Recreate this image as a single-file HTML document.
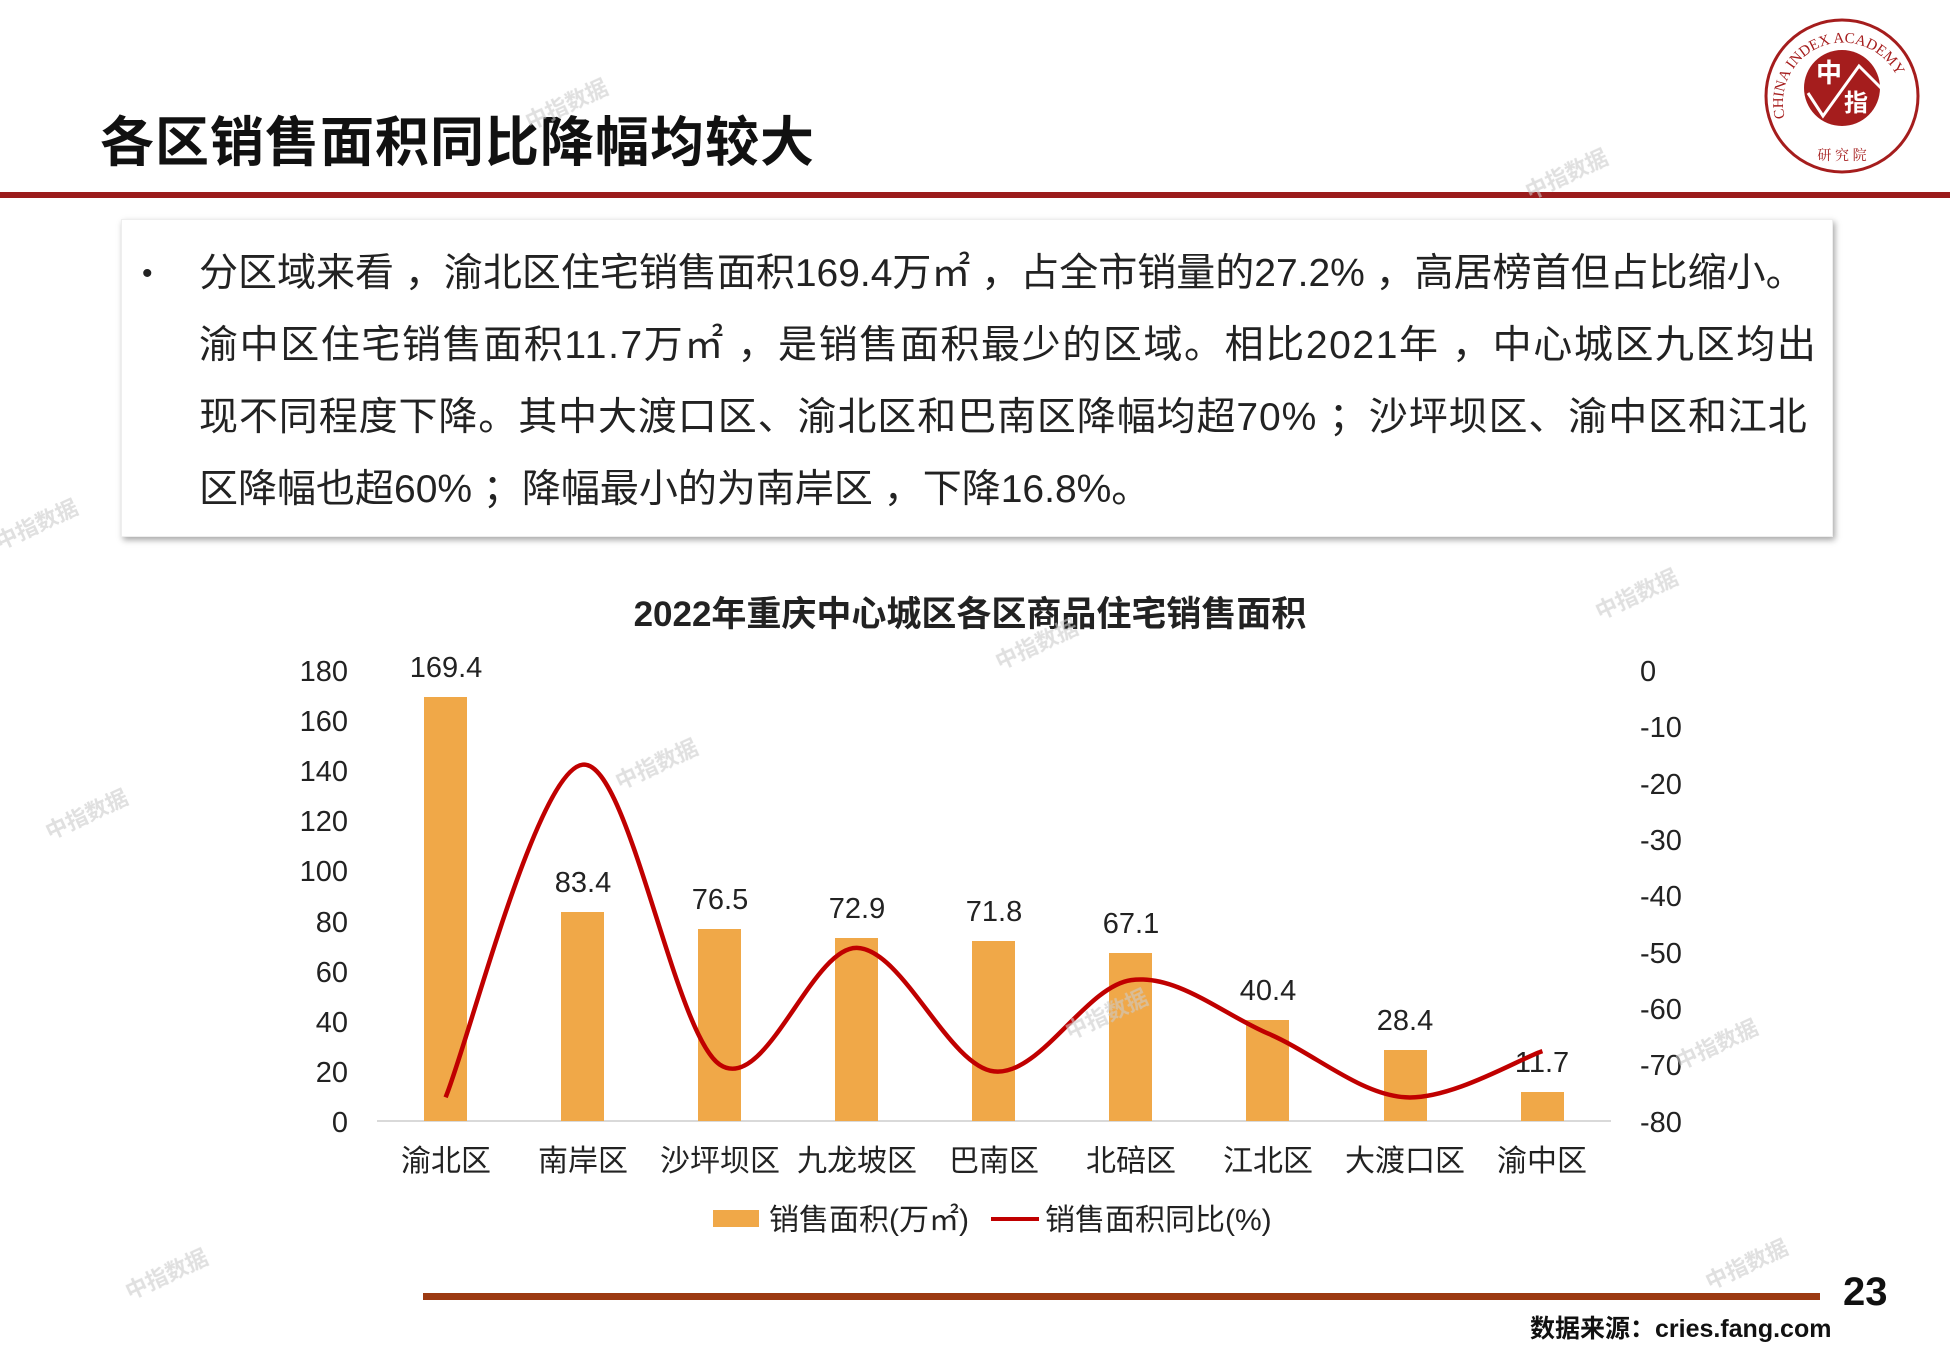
<!DOCTYPE html>
<html><head><meta charset="utf-8"><style>
body{margin:0;width:1950px;height:1350px;background:#fff;position:relative;overflow:hidden;font-family:"Liberation Sans","Noto Sans CJK SC",sans-serif;}
.title{position:absolute;left:100px;top:98px;font-size:54px;font-weight:bold;color:#111;letter-spacing:1px;}
.box{position:absolute;left:121px;top:219px;width:1710px;height:316px;background:#fff;box-shadow:2px 3px 6px rgba(0,0,0,0.35);border:1px solid #eee;}
.txt{position:absolute;left:199px;top:238px;width:1700px;font-size:39px;line-height:72px;color:#222;white-space:nowrap;}
.bullet{position:absolute;left:142px;top:238px;font-size:30px;line-height:72px;color:#222;}
</style></head><body>
<div class="title">各区销售面积同比降幅均较大</div>
<div style="position:absolute;left:0;top:192px;width:1950px;height:6px;background:#9b1c1c"></div>
<svg style="position:absolute;left:1763px;top:18px" width="160" height="158" viewBox="0 0 160 158">
<circle cx="79" cy="78" r="76" fill="#fff" stroke="#a51d1d" stroke-width="3"/>
<circle cx="79" cy="70" r="38" fill="#a51d1d"/>
<text x="66" y="64" font-size="26" fill="#fff" font-family="Noto Sans CJK SC" text-anchor="middle" font-weight="bold">中</text>
<text x="93" y="93" font-size="24" fill="#fff" font-family="Noto Sans CJK SC" text-anchor="middle" font-weight="bold">指</text>
<polyline points="45,75 60,98 96,48 118,70" fill="none" stroke="#fff" stroke-width="3"/>
<path id="arc" d="M22,100 A60,60 0 1 1 138,100" fill="none"/>
<text font-size="15" fill="#a51d1d" font-family="Liberation Serif"><textPath href="#arc">CHINA INDEX ACADEMY</textPath></text>
<text x="79" y="142" font-size="14" fill="#a51d1d" text-anchor="middle" font-family="Noto Serif CJK SC">研 究 院</text>
</svg>
<div class="box"></div>
<div class="bullet">•</div>
<div class="txt"><div>分区域来看 ，渝北区住宅销售面积169.4万㎡ ，占全市销量的27.2% ，高居榜首但占比缩小。</div><div style="letter-spacing:1.6px">渝中区住宅销售面积11.7万㎡ ，是销售面积最少的区域。相比2021年 ，中心城区九区均出</div><div style="letter-spacing:0.9px">现不同程度下降。其中大渡口区、渝北区和巴南区降幅均超70% ；沙坪坝区、渝中区和江北</div><div>区降幅也超60% ；降幅最小的为南岸区 ，下降16.8%。</div></div>
<svg style="position:absolute;left:0;top:0" width="1950" height="1350" font-family="Liberation Sans, Noto Sans CJK SC, sans-serif">
<text x="970" y="626" font-size="35" font-weight="bold" text-anchor="middle" fill="#222">2022年重庆中心城区各区商品住宅销售面积</text>
<g font-size="29" fill="#222" text-anchor="end">
<text x="348" y="681">180</text><text x="348" y="731">160</text><text x="348" y="781">140</text><text x="348" y="831">120</text><text x="348" y="881">100</text><text x="348" y="932">80</text><text x="348" y="982">60</text><text x="348" y="1032">40</text><text x="348" y="1082">20</text><text x="348" y="1132">0</text>
</g>
<g font-size="29" fill="#222" text-anchor="start">
<text x="1640" y="681">0</text><text x="1640" y="737">-10</text><text x="1640" y="794">-20</text><text x="1640" y="850">-30</text><text x="1640" y="906">-40</text><text x="1640" y="963">-50</text><text x="1640" y="1019">-60</text><text x="1640" y="1075">-70</text><text x="1640" y="1132">-80</text>
</g>
<line x1="377" y1="1121" x2="1611" y2="1121" stroke="#d9d9d9" stroke-width="2"/>
<g fill="#f0a848">
<rect x="424" y="697" width="43" height="424"/>
<rect x="561" y="912" width="43" height="209"/>
<rect x="698" y="929" width="43" height="192"/>
<rect x="835" y="938" width="43" height="183"/>
<rect x="972" y="941" width="43" height="180"/>
<rect x="1109" y="953" width="43" height="168"/>
<rect x="1246" y="1020" width="43" height="101"/>
<rect x="1384" y="1050" width="43" height="71"/>
<rect x="1521" y="1092" width="43" height="29"/>
</g>
<g font-size="29" fill="#222" text-anchor="middle">
<text x="446" y="677">169.4</text><text x="583" y="892">83.4</text><text x="720" y="909">76.5</text><text x="857" y="918">72.9</text><text x="994" y="921">71.8</text><text x="1131" y="933">67.1</text><text x="1268" y="1000">40.4</text><text x="1405" y="1030">28.4</text><text x="1542" y="1072">11.7</text>
</g>
<path d="M445.6,1097.3 C468.5,1041.9 537,770.2 582.7,764.7 C628.4,759.3 674.1,1034.1 719.8,1064.6 C765.5,1095.1 811.2,946.8 856.9,947.9 C902.6,949 948.3,1066 994,1071.4 C1039.7,1076.8 1085.4,986.4 1131.1,980.1 C1176.8,973.8 1222.5,1014.1 1268.2,1033.6 C1313.9,1053.1 1359.6,1094.4 1405.3,1097.3 C1451,1100.2 1519.5,1058.8 1542.4,1051.1" fill="none" stroke="#c00000" stroke-width="4.5"/>
<g font-size="30" fill="#222" text-anchor="middle">
<text x="446" y="1171">渝北区</text><text x="583" y="1171">南岸区</text><text x="720" y="1171">沙坪坝区</text><text x="857" y="1171">九龙坡区</text><text x="994" y="1171">巴南区</text><text x="1131" y="1171">北碚区</text><text x="1268" y="1171">江北区</text><text x="1405" y="1171">大渡口区</text><text x="1542" y="1171">渝中区</text>
</g>
<rect x="713" y="1210" width="46" height="17" fill="#f0a848"/>
<text x="769" y="1230" font-size="30" fill="#222">销售面积(万㎡)</text>
<line x1="991" y1="1219" x2="1039" y2="1219" stroke="#c00000" stroke-width="4"/>
<text x="1045" y="1230" font-size="30" fill="#222">销售面积同比(%)</text>
<rect x="423" y="1293" width="1397" height="7" fill="#9c3a12"/>
<text x="1843" y="1305" font-size="40" font-weight="bold" fill="#111">23</text>
<text x="1530" y="1337" font-size="25" font-weight="bold" fill="#111">数据来源：cries.fang.com</text>
<g font-size="22" fill="#ccc" opacity="0.6" font-weight="bold">
<text transform="translate(530,130) rotate(-25)">中指数据</text>
<text transform="translate(1530,200) rotate(-25)">中指数据</text>
<text transform="translate(0,550) rotate(-25)">中指数据</text>
<text transform="translate(1600,620) rotate(-25)">中指数据</text>
<text transform="translate(1000,670) rotate(-25)">中指数据</text>
<text transform="translate(50,840) rotate(-25)">中指数据</text>
<text transform="translate(620,790) rotate(-25)">中指数据</text>
<text transform="translate(1070,1040) rotate(-25)">中指数据</text>
<text transform="translate(1680,1070) rotate(-25)">中指数据</text>
<text transform="translate(130,1300) rotate(-25)">中指数据</text>
<text transform="translate(1710,1290) rotate(-25)">中指数据</text>
</g>
</svg>
</body></html>
